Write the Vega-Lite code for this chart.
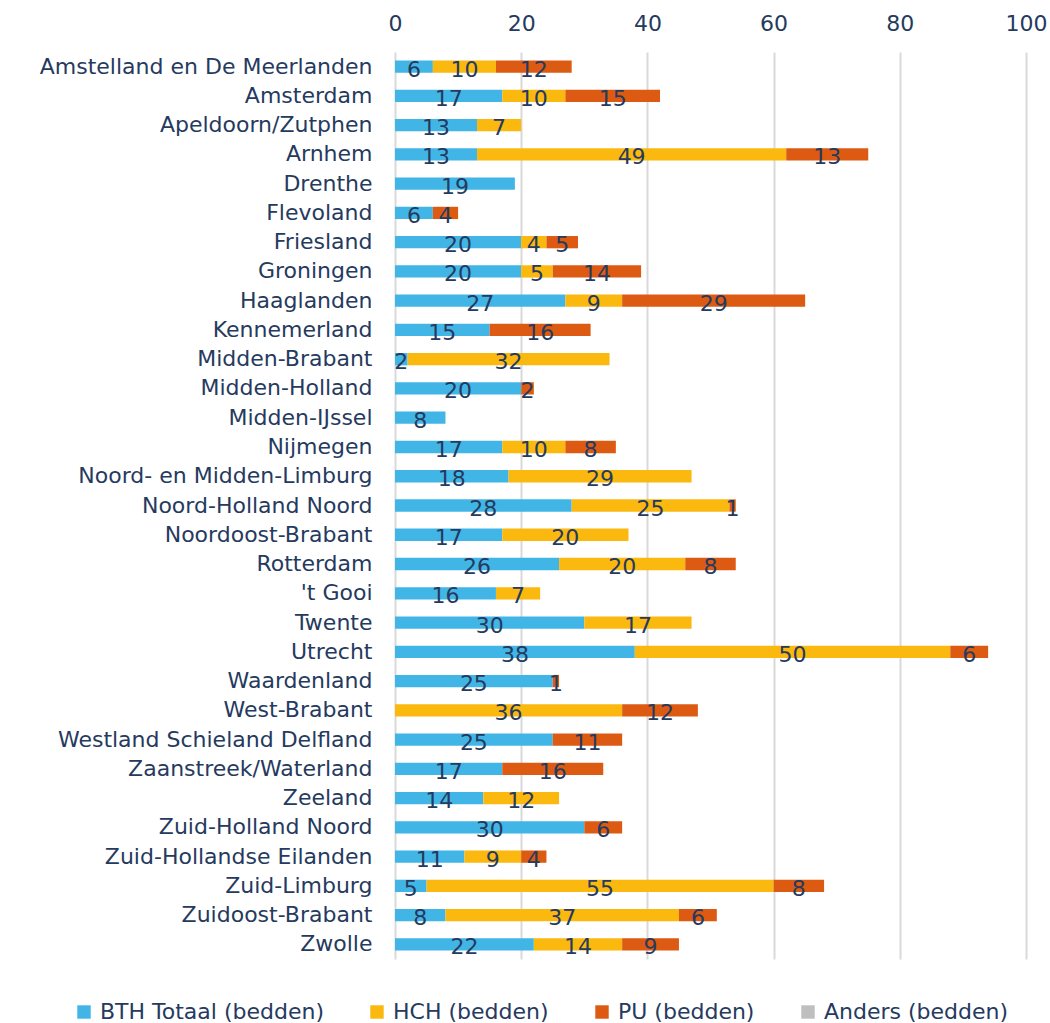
{
  "$schema": "https://vega.github.io/schema/vega-lite/v6.json",
  "width": 631,
  "height": 907,
  "autosize": "none",
  "padding": {"left": 395, "top": 52, "right": 24, "bottom": 64},
  "background": "white",
  "config": {
    "view": {"stroke": null},
    "font": "DejaVu Sans",
    "axis": {"labelFont": "DejaVu Sans", "labelColor": "#253A5E", "labelFontSize": 22},
    "legend": {"labelFont": "DejaVu Sans", "labelColor": "#253A5E", "labelFontSize": 22}
  },
  "data": {
    "values": [
      {"region": "Amstelland en De Meerlanden", "type": "BTH Totaal (bedden)", "value": 6},
      {"region": "Amstelland en De Meerlanden", "type": "HCH (bedden)", "value": 10},
      {"region": "Amstelland en De Meerlanden", "type": "PU (bedden)", "value": 12},
      {"region": "Amsterdam", "type": "BTH Totaal (bedden)", "value": 17},
      {"region": "Amsterdam", "type": "HCH (bedden)", "value": 10},
      {"region": "Amsterdam", "type": "PU (bedden)", "value": 15},
      {"region": "Apeldoorn/Zutphen", "type": "BTH Totaal (bedden)", "value": 13},
      {"region": "Apeldoorn/Zutphen", "type": "HCH (bedden)", "value": 7},
      {"region": "Arnhem", "type": "BTH Totaal (bedden)", "value": 13},
      {"region": "Arnhem", "type": "HCH (bedden)", "value": 49},
      {"region": "Arnhem", "type": "PU (bedden)", "value": 13},
      {"region": "Drenthe", "type": "BTH Totaal (bedden)", "value": 19},
      {"region": "Flevoland", "type": "BTH Totaal (bedden)", "value": 6},
      {"region": "Flevoland", "type": "PU (bedden)", "value": 4},
      {"region": "Friesland", "type": "BTH Totaal (bedden)", "value": 20},
      {"region": "Friesland", "type": "HCH (bedden)", "value": 4},
      {"region": "Friesland", "type": "PU (bedden)", "value": 5},
      {"region": "Groningen", "type": "BTH Totaal (bedden)", "value": 20},
      {"region": "Groningen", "type": "HCH (bedden)", "value": 5},
      {"region": "Groningen", "type": "PU (bedden)", "value": 14},
      {"region": "Haaglanden", "type": "BTH Totaal (bedden)", "value": 27},
      {"region": "Haaglanden", "type": "HCH (bedden)", "value": 9},
      {"region": "Haaglanden", "type": "PU (bedden)", "value": 29},
      {"region": "Kennemerland", "type": "BTH Totaal (bedden)", "value": 15},
      {"region": "Kennemerland", "type": "PU (bedden)", "value": 16},
      {"region": "Midden-Brabant", "type": "BTH Totaal (bedden)", "value": 2},
      {"region": "Midden-Brabant", "type": "HCH (bedden)", "value": 32},
      {"region": "Midden-Holland", "type": "BTH Totaal (bedden)", "value": 20},
      {"region": "Midden-Holland", "type": "PU (bedden)", "value": 2},
      {"region": "Midden-IJssel", "type": "BTH Totaal (bedden)", "value": 8},
      {"region": "Nijmegen", "type": "BTH Totaal (bedden)", "value": 17},
      {"region": "Nijmegen", "type": "HCH (bedden)", "value": 10},
      {"region": "Nijmegen", "type": "PU (bedden)", "value": 8},
      {"region": "Noord- en Midden-Limburg", "type": "BTH Totaal (bedden)", "value": 18},
      {"region": "Noord- en Midden-Limburg", "type": "HCH (bedden)", "value": 29},
      {"region": "Noord-Holland Noord", "type": "BTH Totaal (bedden)", "value": 28},
      {"region": "Noord-Holland Noord", "type": "HCH (bedden)", "value": 25},
      {"region": "Noord-Holland Noord", "type": "PU (bedden)", "value": 1},
      {"region": "Noordoost-Brabant", "type": "BTH Totaal (bedden)", "value": 17},
      {"region": "Noordoost-Brabant", "type": "HCH (bedden)", "value": 20},
      {"region": "Rotterdam", "type": "BTH Totaal (bedden)", "value": 26},
      {"region": "Rotterdam", "type": "HCH (bedden)", "value": 20},
      {"region": "Rotterdam", "type": "PU (bedden)", "value": 8},
      {"region": "'t Gooi", "type": "BTH Totaal (bedden)", "value": 16},
      {"region": "'t Gooi", "type": "HCH (bedden)", "value": 7},
      {"region": "Twente", "type": "BTH Totaal (bedden)", "value": 30},
      {"region": "Twente", "type": "HCH (bedden)", "value": 17},
      {"region": "Utrecht", "type": "BTH Totaal (bedden)", "value": 38},
      {"region": "Utrecht", "type": "HCH (bedden)", "value": 50},
      {"region": "Utrecht", "type": "PU (bedden)", "value": 6},
      {"region": "Waardenland", "type": "BTH Totaal (bedden)", "value": 25},
      {"region": "Waardenland", "type": "PU (bedden)", "value": 1},
      {"region": "West-Brabant", "type": "HCH (bedden)", "value": 36},
      {"region": "West-Brabant", "type": "PU (bedden)", "value": 12},
      {"region": "Westland Schieland Delfland", "type": "BTH Totaal (bedden)", "value": 25},
      {"region": "Westland Schieland Delfland", "type": "PU (bedden)", "value": 11},
      {"region": "Zaanstreek/Waterland", "type": "BTH Totaal (bedden)", "value": 17},
      {"region": "Zaanstreek/Waterland", "type": "PU (bedden)", "value": 16},
      {"region": "Zeeland", "type": "BTH Totaal (bedden)", "value": 14},
      {"region": "Zeeland", "type": "HCH (bedden)", "value": 12},
      {"region": "Zuid-Holland Noord", "type": "BTH Totaal (bedden)", "value": 30},
      {"region": "Zuid-Holland Noord", "type": "PU (bedden)", "value": 6},
      {"region": "Zuid-Hollandse Eilanden", "type": "BTH Totaal (bedden)", "value": 11},
      {"region": "Zuid-Hollandse Eilanden", "type": "HCH (bedden)", "value": 9},
      {"region": "Zuid-Hollandse Eilanden", "type": "PU (bedden)", "value": 4},
      {"region": "Zuid-Limburg", "type": "BTH Totaal (bedden)", "value": 5},
      {"region": "Zuid-Limburg", "type": "HCH (bedden)", "value": 55},
      {"region": "Zuid-Limburg", "type": "PU (bedden)", "value": 8},
      {"region": "Zuidoost-Brabant", "type": "BTH Totaal (bedden)", "value": 8},
      {"region": "Zuidoost-Brabant", "type": "HCH (bedden)", "value": 37},
      {"region": "Zuidoost-Brabant", "type": "PU (bedden)", "value": 6},
      {"region": "Zwolle", "type": "BTH Totaal (bedden)", "value": 22},
      {"region": "Zwolle", "type": "HCH (bedden)", "value": 14},
      {"region": "Zwolle", "type": "PU (bedden)", "value": 9}
    ]
  },
  "transform": [
    {"stack": "value", "groupby": ["region"], "sort": [{"field": "type", "order": "ascending"}], "as": ["x0", "x1"]},
    {"calculate": "(datum.x0 + datum.x1) / 2", "as": "xmid"}
  ],
  "encoding": {
    "y": {
      "field": "region",
      "type": "nominal",
      "sort": null,
      "title": null,
      "scale": {"paddingInner": 0.58, "paddingOuter": 0.29},
      "axis": {"ticks": false, "domain": false, "labelPadding": 23, "labelLimit": 400}
    }
  },
  "layer": [
    {
      "mark": {"type": "bar"},
      "encoding": {
        "x": {
          "field": "x0",
          "type": "quantitative",
          "scale": {"domain": [0, 100], "nice": false},
          "title": null,
          "axis": {
            "orient": "top",
            "values": [0, 20, 40, 60, 80, 100],
            "ticks": false,
            "domain": false,
            "labelFlush": false,
            "labelPadding": 17,
            "grid": true,
            "gridColor": "#D9D9D9",
            "gridWidth": 2
          }
        },
        "x2": {"field": "x1"},
        "color": {
          "field": "type",
          "type": "nominal",
          "scale": {
            "domain": ["BTH Totaal (bedden)", "HCH (bedden)", "PU (bedden)", "Anders (bedden)"],
            "range": ["#41B6E6", "#FBB80E", "#DD5A12", "#BFBFBF"]
          },
          "legend": {
            "title": null,
            "orient": "none",
            "direction": "horizontal",
            "legendX": -322,
            "legendY": 949,
            "symbolType": "square",
            "symbolSize": 180,
            "symbolStrokeWidth": 0,
            "symbolOpacity": 1,
            "labelOffset": 5,
            "labelLimit": 0,
            "columnPadding": 42
          }
        }
      }
    },
    {
      "mark": {"type": "text", "fontSize": 22, "color": "#253A5E", "baseline": "alphabetic", "dy": 10, "font": "DejaVu Sans"},
      "encoding": {
        "x": {"field": "xmid", "type": "quantitative"},
        "text": {"field": "value", "type": "quantitative"}
      }
    }
  ]
}
